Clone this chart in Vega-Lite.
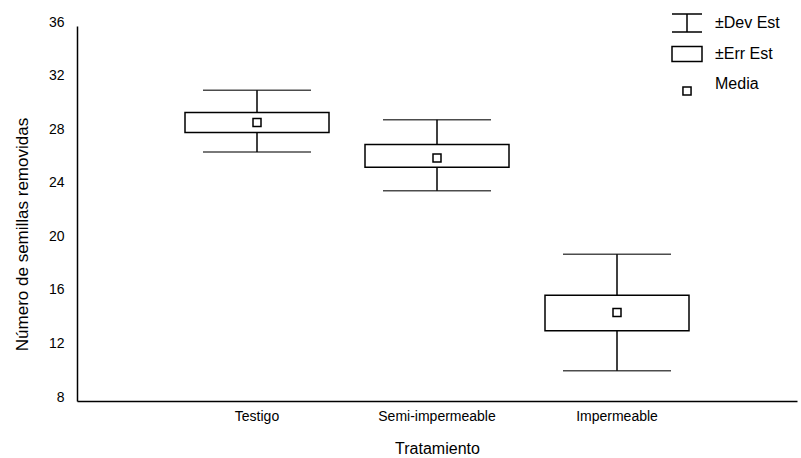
{
  "$schema": "https://vega.github.io/schema/vega-lite/v6.json",
  "autosize": {"type": "none"},
  "width": 720,
  "height": 375,
  "padding": {"left": 77, "top": 26, "right": 4, "bottom": 57},
  "background": "white",
  "config": {
    "font": "Liberation Sans",
    "view": {"stroke": null},
    "axis": {"grid": false, "domainColor": "black", "domainWidth": 1.5, "labelColor": "black", "titleColor": "black", "labelFont": "Liberation Sans", "titleFont": "Liberation Sans", "titleFontWeight": "normal"},
    "legend": {"labelFont": "Liberation Sans"}
  },
  "datasets": {
    "stats": [
      {"Tratamiento": "Testigo", "sd_lo": 26.6, "se_lo": 28.05, "media": 28.8, "se_hi": 29.55, "sd_hi": 31.2},
      {"Tratamiento": "Semi-impermeable", "sd_lo": 23.7, "se_lo": 25.45, "media": 26.15, "se_hi": 27.15, "sd_hi": 29.0},
      {"Tratamiento": "Impermeable", "sd_lo": 10.25, "se_lo": 13.25, "media": 14.6, "se_hi": 15.9, "sd_hi": 18.95}
    ],
    "legend": [
      {"item": "±Dev  Est"},
      {"item": "±Err  Est"},
      {"item": "Media"}
    ]
  },
  "layer": [
    {
      "data": {"name": "stats"},
      "mark": {"type": "rule", "color": "black", "strokeWidth": 1.5},
      "encoding": {
        "x": {"field": "Tratamiento", "type": "nominal", "sort": null,
              "scale": {"paddingInner": 0, "paddingOuter": 0.5},
              "axis": {"title": "Tratamiento", "labelAngle": 0, "ticks": false, "labelFontSize": 14, "labelPadding": 8, "titleFontSize": 16, "titlePadding": 17}},
        "y": {"field": "sd_lo", "type": "quantitative",
              "scale": {"domain": [8, 36], "nice": false, "zero": false},
              "axis": {"title": "Número de semillas removidas", "values": [8, 12, 16, 20, 24, 28, 32, 36], "ticks": false, "labelPadding": 13, "labelFontSize": 14, "labelOffset": -4, "titleFontSize": 17, "titleX": -50, "titleY": 208, "titleBaseline": "alphabetic"}},
        "y2": {"field": "sd_hi"}
      }
    },
    {
      "data": {"name": "stats"},
      "mark": {"type": "bar", "fill": "white", "stroke": "black", "strokeWidth": 1.5, "width": {"band": 0.8}},
      "encoding": {
        "x": {"field": "Tratamiento", "type": "nominal", "sort": null},
        "y": {"field": "se_lo", "type": "quantitative"},
        "y2": {"field": "se_hi"}
      }
    },
    {
      "data": {"name": "stats"},
      "mark": {"type": "tick", "color": "black", "size": 108, "thickness": 1.5, "orient": "horizontal"},
      "encoding": {
        "x": {"field": "Tratamiento", "type": "nominal", "sort": null},
        "y": {"field": "sd_hi", "type": "quantitative"}
      }
    },
    {
      "data": {"name": "stats"},
      "mark": {"type": "tick", "color": "black", "size": 108, "thickness": 1.5, "orient": "horizontal"},
      "encoding": {
        "x": {"field": "Tratamiento", "type": "nominal", "sort": null},
        "y": {"field": "sd_lo", "type": "quantitative"}
      }
    },
    {
      "data": {"name": "stats"},
      "mark": {"type": "point", "shape": "square", "size": 64, "fill": "white", "stroke": "black", "strokeWidth": 1.5, "opacity": 1},
      "encoding": {
        "x": {"field": "Tratamiento", "type": "nominal", "sort": null},
        "y": {"field": "media", "type": "quantitative"}
      }
    },
    {
      "data": {"name": "legend"},
      "mark": {"type": "point", "filled": false, "color": "black", "opacity": 0, "size": 900, "strokeWidth": 1.5},
      "encoding": {
        "shape": {"field": "item", "type": "nominal",
          "scale": {"domain": ["±Dev  Est", "±Err  Est", "Media"],
                    "range": ["M-1,-0.6L1,-0.6M0,-0.6L0,0.6M-1,0.6L1,0.6", "M-1,-0.5L1,-0.5L1,0.5L-1,0.5Z", "M-0.27,0.2L0.27,0.2L0.27,0.74L-0.27,0.74Z"]},
          "legend": {"title": null, "orient": "none", "legendX": 594, "legendY": -19, "padding": 0, "symbolSize": 900, "symbolStrokeColor": "black", "symbolFillColor": "transparent", "symbolStrokeWidth": 1.5, "labelFontSize": 16, "labelOffset": 12, "rowPadding": 3, "labelColor": "black"}}
      }
    }
  ]
}
